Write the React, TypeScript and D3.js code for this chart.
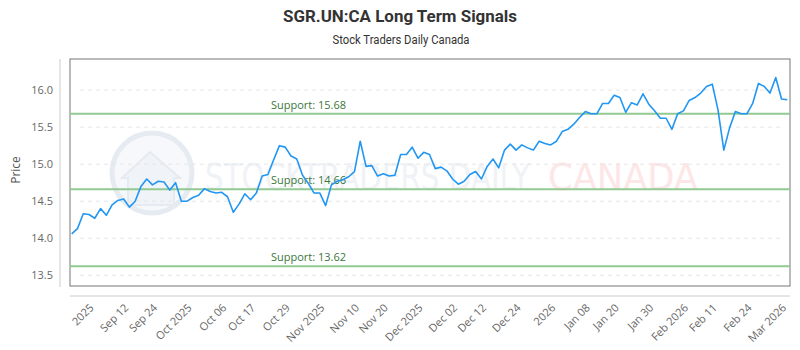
import React from 'react';
import { scaleLinear, line as d3Line } from 'd3';

// closing prices, one per trading day
const prices = [
  14.06, 14.13, 14.33, 14.32, 14.27, 14.40, 14.31, 14.45, 14.51, 14.53,
  14.42, 14.50, 14.70, 14.80, 14.72, 14.77, 14.76, 14.65, 14.75, 14.50,
  14.50, 14.55, 14.58, 14.67, 14.63, 14.61, 14.62, 14.56, 14.35, 14.46,
  14.60, 14.52, 14.61, 14.84, 14.86, 15.06, 15.25, 15.23, 15.11, 15.07,
  14.85, 14.74, 14.61, 14.61, 14.44, 14.72, 14.77, 14.79, 14.83, 14.90,
  15.31, 14.97, 14.98, 14.84, 14.87, 14.84, 14.85, 15.13, 15.13, 15.23,
  15.08, 15.16, 15.13, 14.94, 14.96, 14.91, 14.80, 14.73, 14.77, 14.86,
  14.90, 14.80, 14.97, 15.07, 14.95, 15.19, 15.27, 15.19, 15.26, 15.22,
  15.19, 15.31, 15.28, 15.26, 15.31, 15.44, 15.47, 15.54, 15.63, 15.71,
  15.68, 15.68, 15.82, 15.82, 15.93, 15.90, 15.70, 15.83, 15.80, 15.95,
  15.81, 15.72, 15.62, 15.62, 15.47, 15.68, 15.72, 15.86, 15.90, 15.96,
  16.05, 16.08, 15.73, 15.19, 15.49, 15.71, 15.68, 15.68, 15.82, 16.09,
  16.05, 15.96, 16.17, 15.88, 15.87,
];

const tickLabels = [
  '2025', 'Sep 12', 'Sep 24', 'Oct 2025', 'Oct 06', 'Oct 17', 'Oct 29', 'Nov 2025',
  'Nov 10', 'Nov 20', 'Dec 2025', 'Dec 02', 'Dec 12', 'Dec 24', '2026', 'Jan 08',
  'Jan 20', 'Jan 30', 'Feb 2026', 'Feb 11', 'Feb 24', 'Mar 2026',
];
const tickIndex = [3, 9, 14, 20, 26, 31, 37, 43, 49, 54, 60, 66, 71, 77, 83, 89, 94, 100, 106, 111, 117, 123];

const yTicks = [13.5, 14.0, 14.5, 15.0, 15.5, 16.0];
const supports = [15.68, 14.66, 13.62];

const W = 800;
const H = 350;
const box = { left: 70, right: 790, top: 59, bottom: 286 };
const tickFont = "'Open Sans', sans-serif";

const App = () => {
  const x = scaleLinear().domain([0, prices.length - 1]).range([71.7, 787.3]);
  const y = scaleLinear().domain([13.355, 16.42]).range([box.bottom, box.top]);

  const path = d3Line<number>()
    .x((d, i) => x(i))
    .y(d => y(d))(prices);

  return (
    <svg width={W} height={H} style={{ position: 'absolute', left: 0, top: 0, background: '#fff' }}>
      {/* titles */}
      <text x={400} y={22} textAnchor='middle' fontFamily='Roboto, sans-serif' fontWeight='bold'
        fontSize={17} fill='#333' textLength={234} lengthAdjust='spacingAndGlyphs'>
        SGR.UN:CA Long Term Signals
      </text>
      <text x={401} y={44} textAnchor='middle' fontFamily='Roboto, sans-serif' fontSize={12}
        fill='#333' textLength={137} lengthAdjust='spacingAndGlyphs'>
        Stock Traders Daily Canada
      </text>

      {/* watermark */}
      <g>
        <circle cx={152} cy={173} r={40} fill='#f6f8fb' stroke='#e6ebf2' strokeWidth={5} />
        <path d='M122,178 L150,152 L180,178 L174,178 L174,205 L128,205 L128,178 Z' fill='#f0f3f7' stroke='#e6eaf1' strokeWidth={2} />
        <text x={205} y={190} fontFamily='DejaVu Sans, sans-serif' fontSize={38} fill='#eff2f6'
          textLength={325} lengthAdjust='spacingAndGlyphs'>STOCKTRADERS DAILY</text>
        <text x={548} y={190} fontFamily='DejaVu Sans, sans-serif' fontSize={38} fill='#fde6e6'
          textLength={150} lengthAdjust='spacingAndGlyphs'>CANADA</text>
      </g>

      {/* grid */}
      {yTicks.map(t => (
        <line key={t} x1={80} x2={783} y1={y(t)} y2={y(t)} stroke='#e6e6e6' strokeDasharray='4,4' />
      ))}

      {/* plot frame */}
      <rect x={box.left} y={box.top} width={box.right - box.left} height={box.bottom - box.top}
        fill='none' stroke='#777' strokeWidth={1} />

      {/* outer axis lines */}
      <line x1={60} x2={60} y1={box.top} y2={box.bottom + 1} stroke='#ccc' />
      <line x1={box.left} x2={box.right} y1={296} y2={296} stroke='#ccc' />

      {/* support levels */}
      {supports.map(s => (
        <g key={s}>
          <line x1={box.left} x2={box.right} y1={y(s)} y2={y(s)} stroke='#93c993' strokeWidth={2} />
          <text x={271} y={y(s) - 5} fontFamily={tickFont} fontSize={11} fill='#3a773a'>
            Support: {s.toFixed(2)}
          </text>
        </g>
      ))}

      {/* price line */}
      <path d={path || ''} fill='none' stroke='#2196f3' strokeWidth={1.6} strokeLinejoin='round' />

      {/* y ticks */}
      {yTicks.map(t => (
        <text key={t} x={53} y={y(t)} dy='0.35em' textAnchor='end' fontFamily={tickFont}
          fontSize={11} fill='#666'>{t.toFixed(1)}</text>
      ))}
      <text transform='translate(20,170) rotate(-90)' textAnchor='middle' fontFamily={tickFont}
        fontSize={12} fill='#555'>Price</text>

      {/* x ticks */}
      {tickIndex.map((idx, i) => (
        <text key={idx} transform={`translate(${x(idx)},303) rotate(-45)`} textAnchor='end'
          dy='0.7em' fontFamily={tickFont} fontSize={11} fill='#666'>{tickLabels[i]}</text>
      ))}
    </svg>
  );
};

export default App;
